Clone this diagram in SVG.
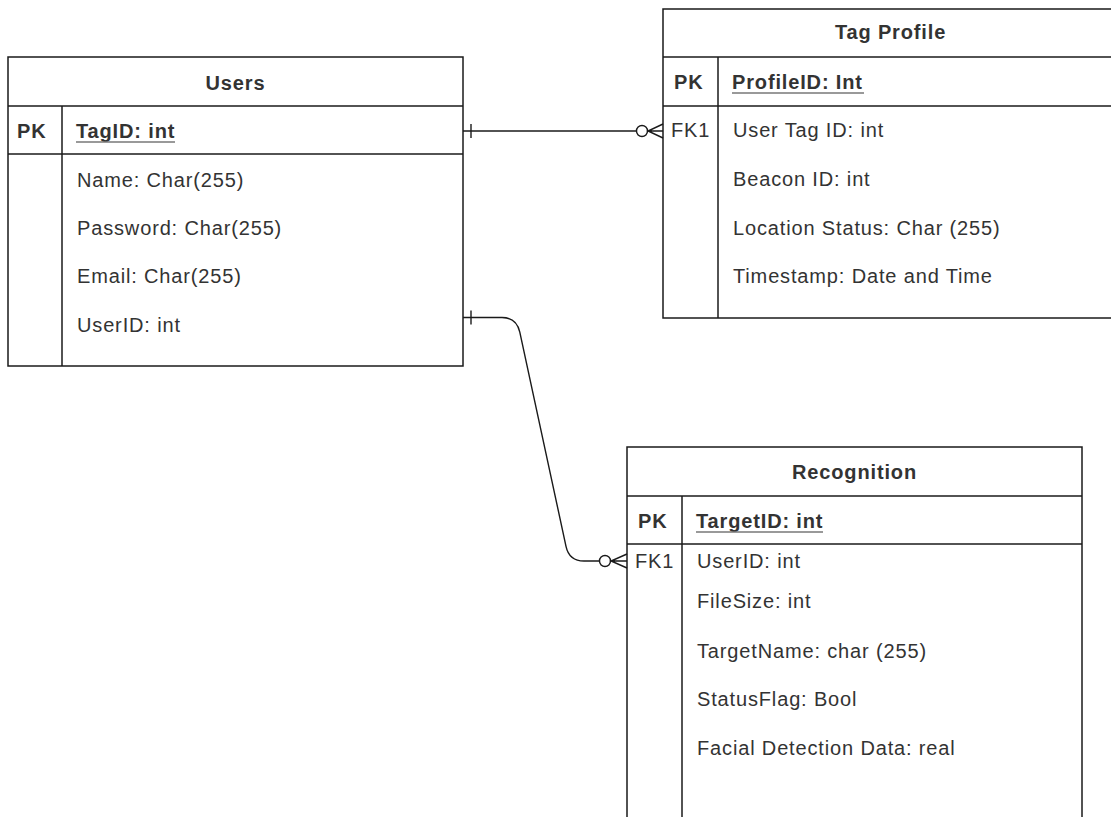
<svg xmlns="http://www.w3.org/2000/svg" width="1111" height="817" viewBox="0 0 1111 817">
<style>
.box{fill:#fff;stroke:#1a1a1a;stroke-width:1.5}
.ln{stroke:#1a1a1a;stroke-width:1.5;fill:none}
.t{font-family:"Liberation Sans",Arial,sans-serif;font-size:20px;letter-spacing:0.85px;fill:#333}
.b{font-weight:bold}
.ul{stroke:#777;stroke-width:1.6}
.c{stroke:#1a1a1a;stroke-width:1.4;fill:none}
</style>
<rect width="1111" height="817" fill="#fff"/>
<g id="users">
<rect class="box" x="8" y="57" width="455" height="309"/>
<line class="ln" x1="8" y1="106" x2="463" y2="106"/>
<line class="ln" x1="8" y1="154" x2="463" y2="154"/>
<line class="ln" x1="62" y1="106" x2="62" y2="366"/>
<text class="t b" x="235.5" y="90" text-anchor="middle">Users</text>
<text class="t b" x="17" y="138">PK</text>
<text class="t b" x="76" y="138">TagID: int</text>
<line class="ul" x1="76" y1="142" x2="175" y2="142"/>
<text class="t" x="77" y="187">Name: Char(255)</text>
<text class="t" x="77" y="235">Password: Char(255)</text>
<text class="t" x="77" y="283">Email: Char(255)</text>
<text class="t" x="77" y="332">UserID: int</text>
</g>
<g id="tagprofile">
<rect class="box" x="663" y="9" width="455" height="309"/>
<line class="ln" x1="663" y1="57" x2="1118" y2="57"/>
<line class="ln" x1="663" y1="106" x2="1118" y2="106"/>
<line class="ln" x1="718" y1="57" x2="718" y2="318"/>
<text class="t b" x="890.5" y="39" text-anchor="middle">Tag Profile</text>
<text class="t b" x="674" y="89">PK</text>
<text class="t b" x="732" y="89">ProfileID: Int</text>
<line class="ul" x1="732" y1="93" x2="864" y2="93"/>
<text class="t" x="671" y="137">FK1</text>
<text class="t" x="733" y="137">User Tag ID: int</text>
<text class="t" x="733" y="186">Beacon ID: int</text>
<text class="t" x="733" y="235">Location Status: Char (255)</text>
<text class="t" x="733" y="283">Timestamp: Date and Time</text>
</g>
<g id="recognition">
<rect class="box" x="627" y="447" width="455" height="400"/>
<line class="ln" x1="627" y1="496" x2="1082" y2="496"/>
<line class="ln" x1="627" y1="544" x2="1082" y2="544"/>
<line class="ln" x1="682" y1="496" x2="682" y2="830"/>
<text class="t b" x="854.5" y="479" text-anchor="middle">Recognition</text>
<text class="t b" x="638" y="528">PK</text>
<text class="t b" x="696" y="528">TargetID: int</text>
<line class="ul" x1="696" y1="532" x2="823" y2="532"/>
<text class="t" x="635" y="568">FK1</text>
<text class="t" x="697" y="568">UserID: int</text>
<text class="t" x="697" y="608">FileSize: int</text>
<text class="t" x="697" y="658">TargetName: char (255)</text>
<text class="t" x="697" y="706">StatusFlag: Bool</text>
<text class="t" x="697" y="755">Facial Detection Data: real</text>
</g>
<g id="connectors">
<path class="c" d="M463,131 H636"/>
<line class="c" x1="471" y1="124" x2="471" y2="138"/>
<circle class="c" cx="642" cy="131" r="5.5"/>
<path class="c" d="M663,124 L648,131 L663,138 M648,131 H663"/>
<path class="c" d="M463,317.5 H502 Q516.6,317.5 519.8,332.2 L566,546.3 Q569.2,561 584,561 H599.5"/>
<line class="c" x1="471" y1="310.5" x2="471" y2="324.5"/>
<circle class="c" cx="605" cy="561" r="5.5"/>
<path class="c" d="M627,554 L611,561 L627,568 M611,561 H627"/>
</g>
</svg>
